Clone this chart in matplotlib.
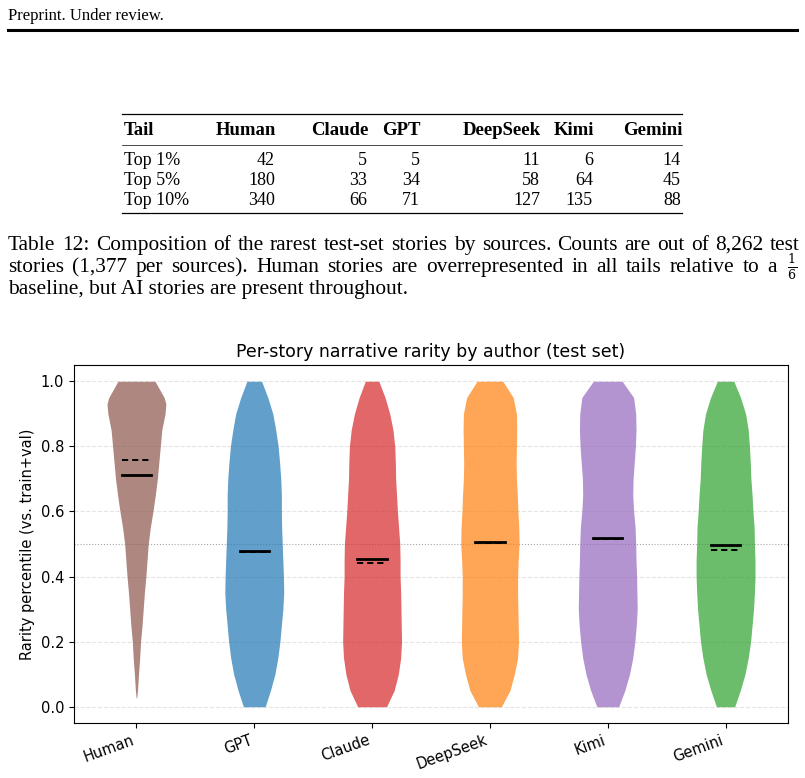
import numpy as np
import matplotlib.pyplot as plt
from matplotlib.lines import Line2D

# ------------------------------------------------------------------------------
# Data
# ------------------------------------------------------------------------------
header_text = 'Preprint. Under review.'

table_cols = ['Tail', 'Human', 'Claude', 'GPT', 'DeepSeek', 'Kimi', 'Gemini']
table_rows = ['Top 1%', 'Top 5%', 'Top 10%']
table_human = [42, 180, 340]
table_claude = [5, 33, 66]
table_gpt = [5, 34, 71]
table_deepseek = [11, 58, 127]
table_kimi = [6, 64, 135]
table_gemini = [14, 45, 88]

caption_lines = [
    'Table 12: Composition of the rarest test-set stories by sources. Counts are out of 8,262 test',
    'stories (1,377 per sources).  Human stories are overrepresented in all tails relative to a',
    'baseline, but AI stories are present throughout.',
]

authors = ['Human', 'GPT', 'Claude', 'DeepSeek', 'Kimi', 'Gemini']
author_colors = ['tab:brown', 'tab:blue', 'tab:red', 'tab:orange', 'tab:purple', 'tab:green']

# violin outlines: percentile levels and relative width (1 = widest)
grid_y = [0.00, 0.05, 0.10, 0.15, 0.20, 0.25, 0.30, 0.35, 0.40, 0.45, 0.50,
          0.55, 0.60, 0.65, 0.70, 0.75, 0.80, 0.85, 0.90, 0.95, 1.00]
human_y = [0.027, 0.05, 0.10, 0.15, 0.20, 0.25, 0.30, 0.35, 0.40, 0.45, 0.50,
           0.55, 0.60, 0.65, 0.70, 0.75, 0.80, 0.85, 0.90, 0.93, 0.95, 1.00]
human_w = [0.01, 0.035, 0.07, 0.11, 0.14, 0.19, 0.23, 0.27, 0.32, 0.36, 0.40,
           0.47, 0.56, 0.64, 0.71, 0.76, 0.81, 0.86, 0.97, 1.00, 0.94, 0.63]
gpt_w = [0.37, 0.55, 0.70, 0.80, 0.87, 0.92, 0.97, 1.00, 0.99, 0.97, 0.95,
         0.93, 0.92, 0.92, 0.90, 0.86, 0.81, 0.73, 0.63, 0.46, 0.25]
claude_w = [0.49, 0.75, 0.89, 0.97, 1.00, 0.99, 0.98, 0.97, 0.95, 0.95, 0.94,
            0.90, 0.86, 0.83, 0.80, 0.79, 0.77, 0.71, 0.60, 0.44, 0.23]
deepseek_w = [0.39, 0.68, 0.83, 0.94, 0.97, 0.96, 0.95, 0.94, 0.94, 0.96, 0.99,
              0.98, 0.95, 0.93, 0.90, 0.89, 0.90, 0.91, 0.90, 0.79, 0.44]
kimi_w = [0.37, 0.58, 0.74, 0.85, 0.92, 0.97, 1.00, 0.99, 0.98, 0.96, 0.95,
          0.93, 0.88, 0.85, 0.86, 0.90, 0.94, 0.96, 0.95, 0.88, 0.49]
gemini_w = [0.31, 0.50, 0.66, 0.77, 0.85, 0.90, 0.95, 0.98, 1.00, 1.00, 0.98,
            0.97, 0.93, 0.90, 0.86, 0.84, 0.81, 0.77, 0.68, 0.51, 0.28]

means = [0.712, 0.479, 0.453, 0.505, 0.518, 0.496]
medians = [0.758, 0.475, 0.441, 0.504, 0.515, 0.482]

# ------------------------------------------------------------------------------
# Page
# ------------------------------------------------------------------------------
fig = plt.figure(figsize=(8.05, 7.78), dpi=100)
W, H = 805, 778
serif = 'Liberation Serif'
renderer = fig.canvas.get_renderer()


def fx(px):
    return px / W


def fy(py):
    return 1 - py / H


def justified(line, x0, x1, ypx, size):
    """Place words of one line so that it fills x0..x1 (pixels), on one baseline."""
    words = line.split()
    widths = []
    for w in words:
        t = fig.text(0, 0, w, family=serif, fontsize=size)
        widths.append(t.get_window_extent(renderer).width)
        t.remove()
    gap = (x1 - x0 - sum(widths)) / (len(words) - 1)
    x = x0
    for w, wd in zip(words, widths):
        fig.text(fx(x), fy(ypx), w, family=serif, fontsize=size, va='baseline', ha='left')
        x += wd + gap


fig.text(fx(8), fy(20), header_text, family=serif, fontsize=12, va='baseline', ha='left')
fig.add_artist(Line2D([fx(8), fx(797)], [fy(30), fy(30)], color='black', lw=2.2))

# --- Table ---
fig.add_artist(Line2D([fx(122), fx(682)], [fy(114), fy(114)], color='black', lw=0.9))
fig.add_artist(Line2D([fx(122), fx(682)], [fy(145), fy(145)], color='black', lw=0.5))
fig.add_artist(Line2D([fx(122), fx(682)], [fy(213), fy(213)], color='black', lw=0.9))

col_right = [None, 276, 368, 421, 541, 594, 682]
fig.text(fx(124), fy(135), table_cols[0], family=serif, fontsize=13.5,
         fontweight='bold', va='baseline', ha='left')
for name, xr in zip(table_cols[1:], col_right[1:]):
    fig.text(fx(xr), fy(135), name, family=serif, fontsize=13.5,
             fontweight='bold', va='baseline', ha='right')

table_vals = [table_human, table_claude, table_gpt, table_deepseek, table_kimi, table_gemini]
row_y = [165, 185, 205]
for i, (row, ry) in enumerate(zip(table_rows, row_y)):
    fig.text(fx(124), fy(ry), row, family=serif, fontsize=13, va='baseline', ha='left')
    for vals, xr in zip(table_vals, col_right[1:]):
        fig.text(fx(xr - 1), fy(ry), str(vals[i]), family=serif, fontsize=13,
                 va='baseline', ha='right')

# --- Caption ---
cap_size = 15.4
justified(caption_lines[0], 8, 800, 250, cap_size)
justified(caption_lines[1], 8, 777, 272, cap_size)
fig.text(fx(8), fy(294), caption_lines[2], family=serif, fontsize=cap_size,
         va='baseline', ha='left')
fig.text(fx(792), fy(267), r'$\frac{1}{6}$', fontsize=13, va='center', ha='center',
         math_fontfamily='dejavuserif')

# ------------------------------------------------------------------------------
# Violin plot
# ------------------------------------------------------------------------------
ax = fig.add_axes([fx(74), fy(723), fx(788) - fx(74), fy(365) - fy(723)])

profiles = [(human_y, human_w), (grid_y, gpt_w), (grid_y, claude_w),
            (grid_y, deepseek_w), (grid_y, kimi_w), (grid_y, gemini_w)]
half = 0.25
for pos, ((ys, ws), color) in enumerate(zip(profiles, author_colors)):
    ws = np.array(ws) * half
    ax.fill_betweenx(ys, pos - ws, pos + ws, color=color, alpha=0.7, lw=0, zorder=2)

for pos, (m, md) in enumerate(zip(means, medians)):
    ax.plot([pos - 0.125, pos + 0.125], [md, md], color='black', lw=1.4,
            ls=(0, (3.2, 2.0)), zorder=3)
    ax.plot([pos - 0.125, pos + 0.125], [m, m], color='black', lw=2.0, zorder=4)

ax.axhline(0.5, color='gray', lw=0.8, ls=':', alpha=0.7, zorder=1)
ax.yaxis.grid(True, ls='--', color='lightgray', alpha=0.6, lw=0.8)
ax.set_axisbelow(True)

ax.set_xlim(-0.53, 5.53)
ax.set_ylim(-0.05, 1.05)
ax.set_xticks(range(len(authors)))
ax.set_xticklabels(authors, rotation=20, ha='right', fontsize=10.5)
ax.set_yticks([0.0, 0.2, 0.4, 0.6, 0.8, 1.0])
ax.tick_params(axis='y', labelsize=10.5)
ax.set_ylabel('Rarity percentile (vs. train+val)', fontsize=10.5)
ax.set_title('Per-story narrative rarity by author (test set)', fontsize=12.5)

fig.savefig('out.png', dpi=100)
